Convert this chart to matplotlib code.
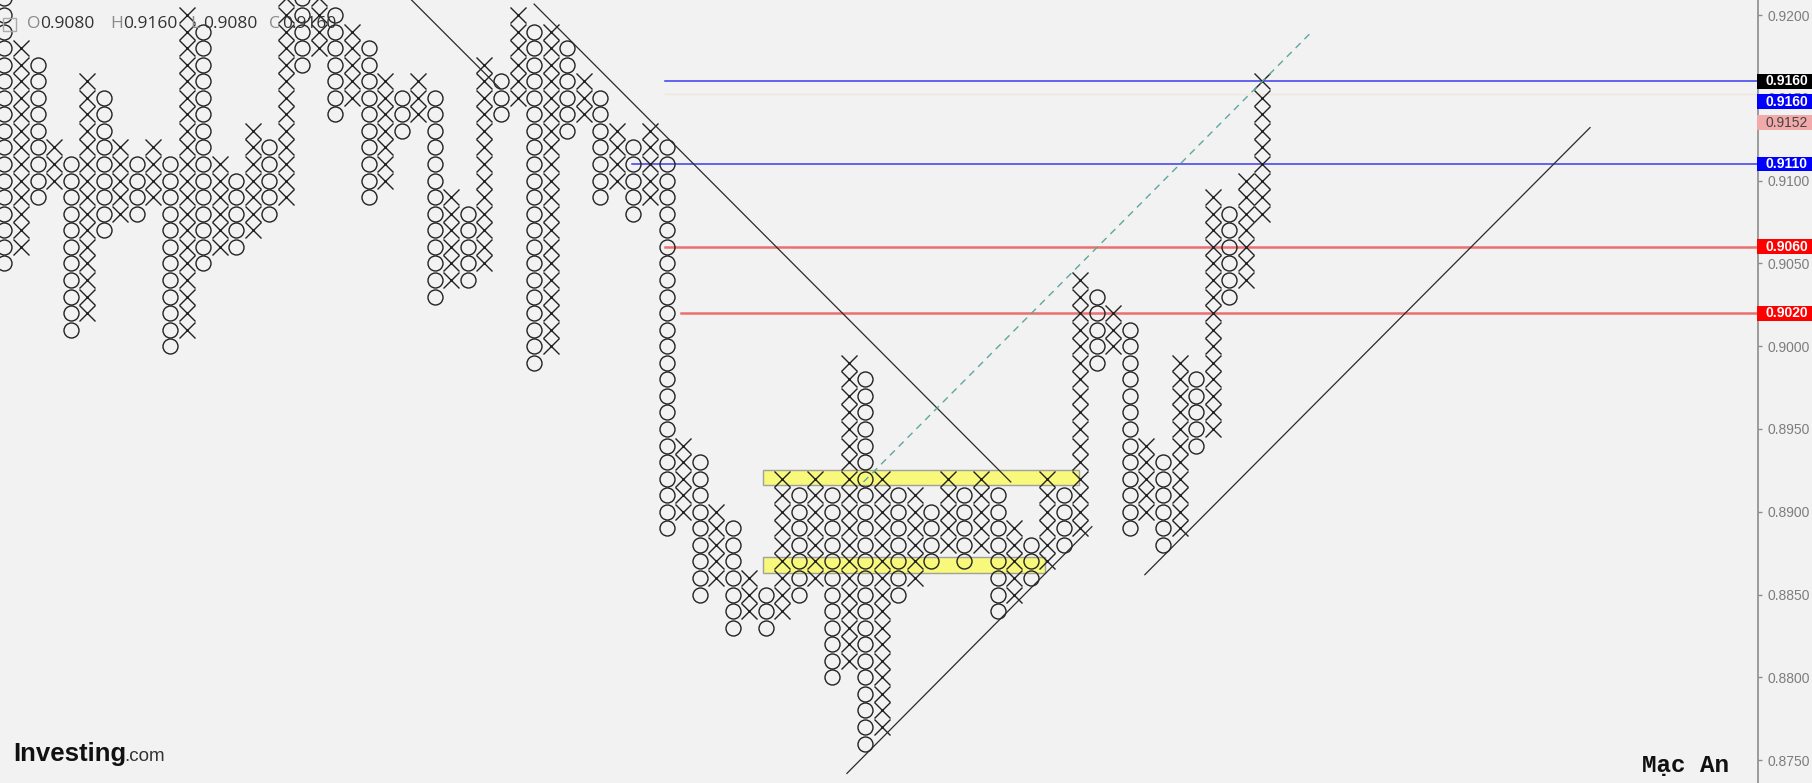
import matplotlib
matplotlib.use('Agg')
import matplotlib.pyplot as plt
import matplotlib.transforms as mtransforms
from matplotlib.patches import Rectangle
import numpy as np

# box size of the point & figure chart
box = 0.001

# columns, left to right: kind, lowest box, highest box
col_kind = "OX" * 38 + "X"
col_low = [0.905, 0.906, 0.909, 0.910, 0.901, 0.902, 0.907, 0.908, 0.908, 0.909,
           0.900, 0.901, 0.905, 0.906, 0.906, 0.907, 0.908, 0.909, 0.917, 0.918,
           0.914, 0.915, 0.909, 0.910, 0.913, 0.914, 0.903, 0.904, 0.904, 0.905,
           0.914, 0.915, 0.899, 0.900, 0.913, 0.914, 0.909, 0.910, 0.908, 0.909,
           0.889, 0.890, 0.885, 0.886, 0.883, 0.884, 0.883, 0.884, 0.885, 0.886,
           0.880, 0.881, 0.876, 0.877, 0.885, 0.886, 0.887, 0.888, 0.887, 0.888,
           0.884, 0.885, 0.886, 0.887, 0.888, 0.889, 0.899, 0.900, 0.889, 0.890,
           0.888, 0.889, 0.894, 0.895, 0.903, 0.904, 0.908]
col_high = [0.921, 0.918, 0.917, 0.912, 0.911, 0.916, 0.915, 0.912, 0.911, 0.912,
            0.911, 0.920, 0.919, 0.911, 0.910, 0.913, 0.912, 0.922, 0.921, 0.921,
            0.920, 0.919, 0.918, 0.916, 0.915, 0.916, 0.915, 0.909, 0.908, 0.917,
            0.916, 0.920, 0.919, 0.919, 0.918, 0.916, 0.915, 0.913, 0.912, 0.913,
            0.912, 0.894, 0.893, 0.890, 0.889, 0.886, 0.885, 0.892, 0.891, 0.892,
            0.891, 0.899, 0.898, 0.892, 0.891, 0.891, 0.890, 0.892, 0.891, 0.892,
            0.891, 0.889, 0.888, 0.892, 0.891, 0.904, 0.903, 0.902, 0.901, 0.894,
            0.893, 0.899, 0.898, 0.909, 0.908, 0.910, 0.916]

# trend lines (column, price) pairs
trend_lines = [((23.5, 0.9220), (29.95, 0.91555)),
               ((32.0, 0.92066), (60.8, 0.89180)),
               ((50.9, 0.87420), (65.7, 0.88910)),
               ((68.9, 0.88620), (95.8, 0.91320))]
dashed_line = ((51.9, 0.89180), (78.9, 0.91890))

# horizontal levels: price, first column, colour
level_price = [0.9160, 0.9152, 0.9110, 0.9060, 0.9020]
level_start = [39.9, 39.9, 37.9, 39.9, 40.9]
level_color = ['#3b3bf0', '#f0e6da', '#3b3bf0', '#ec6f6f', '#ec6f6f']
level_width = [1.1, 1.0, 1.1, 1.8, 1.8]

# yellow zones: first col, last col, low, high
zone_start = [45.85, 45.85]
zone_end = [64.9, 62.87]
zone_low = [0.89162, 0.88629]
zone_high = [0.89252, 0.88729]

# price tags on the axis
tag_price = [0.9160, 0.9160, 0.9152, 0.9110, 0.9060, 0.9020]
tag_face = ['#000000', '#0000ff', '#f2a9a9', '#0000ff', '#ff0000', '#ff0000']
tag_text = ['white', 'white', '#444444', 'white', 'white', 'white']

ohlc_names = ['O', 'H', 'L', 'C']
ohlc_values = [0.9080, 0.9160, 0.9080, 0.9160]

W, H = 1812, 783
fig = plt.figure(figsize=(W / 100, H / 100), dpi=100, facecolor='#f2f2f2')
ax = fig.add_axes([0, 0, 1757.7 / W, 1])
ax.set_facecolor('#f2f2f2')
ax.set_xlim(-0.27, 105.93)
ax.set_ylim(0.87362, 0.920906)

# zones under the marks
for x0, x1, lo, hi in zip(zone_start, zone_end, zone_low, zone_high):
    ax.add_patch(Rectangle((x0, lo), x1 - x0, hi - lo, facecolor='#f8f87a',
                           edgecolor='#a0a0a0', lw=1, zorder=1))

# X and O marks
xs_x, ys_x, xs_o, ys_o = [], [], [], []
for i, (k, lo, hi) in enumerate(zip(col_kind, col_low, col_high)):
    lv = np.arange(lo, hi + box / 2, box)
    if k == 'X':
        xs_x += [i] * len(lv)
        ys_x += list(lv)
    else:
        xs_o += [i] * len(lv)
        ys_o += list(lv)
ax.plot(xs_x, ys_x, ls='none', marker='x', ms=11.8, mew=1.0, color='#222222', zorder=3)
ax.plot(xs_o, ys_o, ls='none', marker='o', ms=10.8, mew=1.0, mfc='none', mec='#222222', zorder=3)

# lines
for p0, p1 in trend_lines:
    ax.plot([p0[0], p1[0]], [p0[1], p1[1]], color='#2a2a2a', lw=0.9, zorder=4)
ax.plot([dashed_line[0][0], dashed_line[1][0]], [dashed_line[0][1], dashed_line[1][1]],
        color='#5fa79a', lw=1.0, ls=(0, (5, 4)), zorder=4)
for p, s, c, w in zip(level_price, level_start, level_color, level_width):
    ax.plot([s, 105.93], [p, p], color=c, lw=w, zorder=2)

# axis styling
for s in ['top', 'left', 'bottom']:
    ax.spines[s].set_visible(False)
ax.spines['right'].set_color('#8c8c8c')
ax.spines['right'].set_linewidth(1.2)
ax.set_xticks([])
ax.yaxis.tick_right()
ax.set_yticks(np.arange(0.875, 0.9201, 0.005))
ax.set_yticklabels(['%.4f' % v for v in np.arange(0.875, 0.9201, 0.005)])
ax.tick_params(axis='y', length=3, width=1, color='#8c8c8c', labelcolor='#7d7d7d',
               labelsize=10, pad=4)
for t in ax.get_yticklabels():
    t.set_fontfamily(['Liberation Sans', 'DejaVu Sans'])

# price tags, pushed down when they would overlap
blend = mtransforms.blended_transform_factory(fig.transFigure, ax.transData)
gap = 1.25 * box
pos = []
for p in tag_price:
    y = p
    if pos and pos[-1] - y < gap:
        y = pos[-1] - gap
    pos.append(y)
for p, y, fc, tc in zip(tag_price, pos, tag_face, tag_text):
    fig.add_artist(Rectangle((1757.0 / W, y - 0.00045), 1 - 1757.0 / W, 0.0009,
                             facecolor=fc, edgecolor='none', transform=blend, zorder=5))
    fig.text(1787.0 / W, y, '%.4f' % p, transform=blend, color=tc, fontsize=10,
             fontweight='bold' if tc == 'white' else 'normal',
             family=['Liberation Sans', 'DejaVu Sans'], ha='center', va='center', zorder=6)

# header with O H L C
fig.add_artist(Rectangle((3 / W, 1 - 31 / H), 13 / W, 13 / H, facecolor='none',
                         edgecolor='#aaaaaa', lw=1, transform=fig.transFigure))
xpos = [27, 110, 190, 269]
for name, val, x in zip(ohlc_names, ohlc_values, xpos):
    fig.text(x / W, 1 - 24 / H, name, color='#8a8a8a', fontsize=12.5,
             family='Open Sans', va='center')
    fig.text((x + 13) / W, 1 - 24 / H, '%.4f' % val, color='#333333', fontsize=12.5,
             family='Open Sans', va='center')

# logo and signature
fig.text(13 / W, 1 - 761 / H, 'Investing', fontsize=18.5, fontweight='bold',
         family='Liberation Sans', color='#111111', va='baseline')
fig.text(124 / W, 1 - 761 / H, '.com', fontsize=13.5, family='Liberation Sans',
         color='#333333', va='baseline')
fig.text(1685 / W, 1 - 772 / H, 'Mạc An', fontsize=17.5, fontweight='bold',
         family=['Liberation Mono', 'DejaVu Sans Mono'], color='#111111',
         ha='center', va='baseline')

fig.savefig('out.png', dpi=100, facecolor=fig.get_facecolor())
